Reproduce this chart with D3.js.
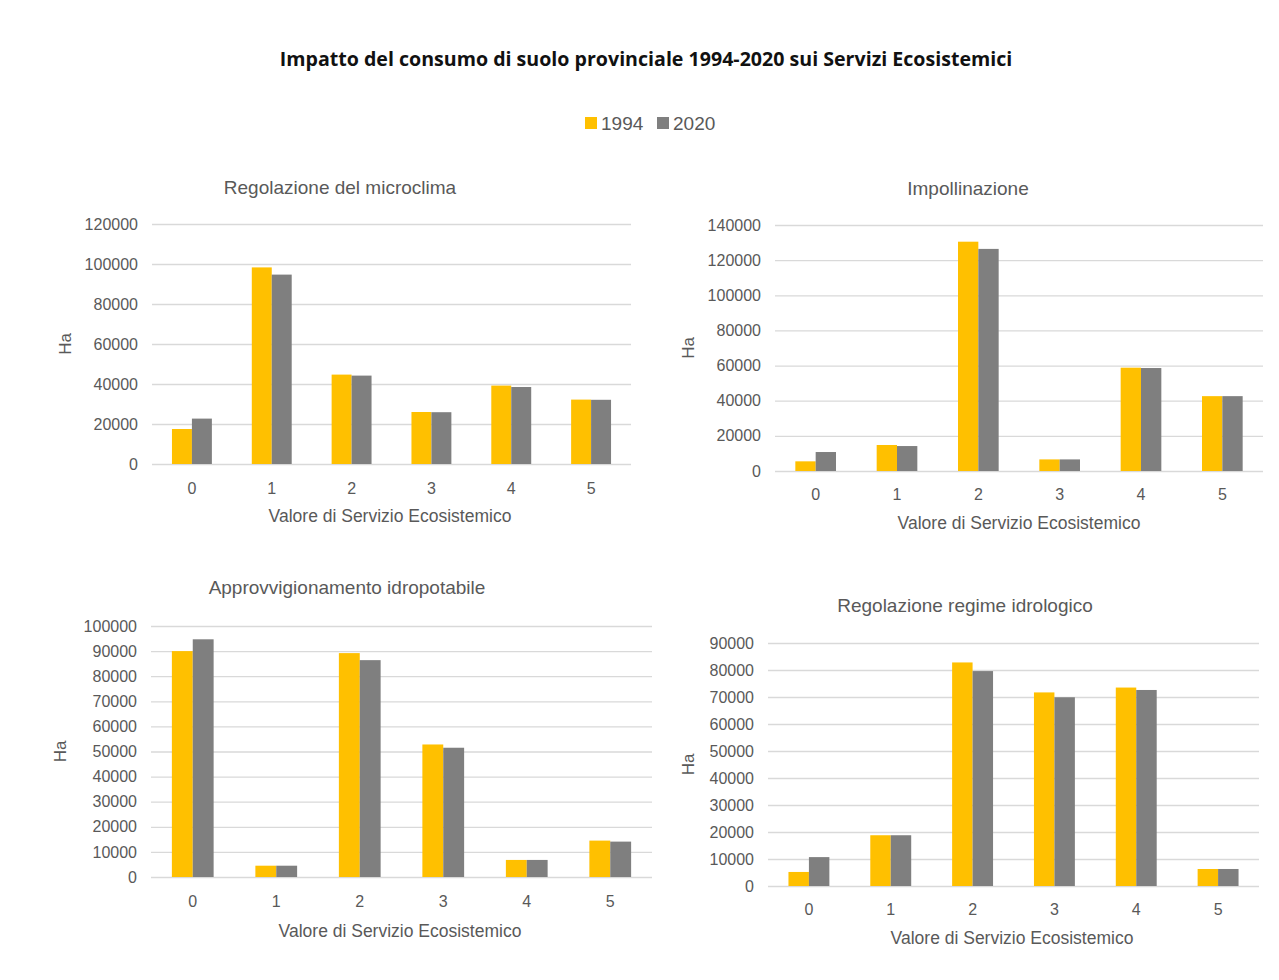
<!DOCTYPE html>
<html>
<head>
<meta charset="utf-8">
<script src="https://cdn.jsdelivr.net/npm/d3@7"></script>
<style>
  body { margin: 0; background: #fff; }
  svg { display: block; }
</style>
</head>
<body>
<script>
// Data
var categories = ["0", "1", "2", "3", "4", "5"];
var years = ["1994", "2020"];

var microclima1994 = [17500, 98300, 44700, 26000, 39200, 32200];
var microclima2020 = [22700, 94700, 44200, 25900, 38500, 32100];

var impollinazione1994 = [5500, 14800, 130500, 6600, 58800, 42600];
var impollinazione2020 = [10800, 14200, 126400, 6600, 58600, 42600];

var idropotabile1994 = [90000, 4500, 89200, 52800, 6800, 14500];
var idropotabile2020 = [94700, 4500, 86400, 51500, 6800, 14100];

var idrologico1994 = [5200, 18800, 82800, 71700, 73500, 6300];
var idrologico2020 = [10700, 18800, 79600, 69900, 72600, 6300];

var yMaxes = [120000, 140000, 100000, 90000];
var yTickSteps = [20000, 20000, 10000, 10000];
var panelTitles = ["Regolazione del microclima", "Impollinazione",
                   "Approvvigionamento idropotabile", "Regolazione regime idrologico"];

var mainTitle = "Impatto del consumo di suolo provinciale 1994-2020 sui Servizi Ecosistemici";
var xTitle = "Valore di Servizio Ecosistemico";
var yTitle = "Ha";

// Colours
var color = d3.scaleOrdinal().domain(years).range(["#FFC000", "#7F7F7F"]);
var textGray = "#595959";
var gridGray = "#D9D9D9";
var panelFont = "'Liberation Sans', Arial, sans-serif";
var tickFont = "'Liberation Sans', Arial, sans-serif";

// Layout of the four panels
var panels = [
  {v1: microclima1994, v2: microclima2020, left: 152, right: 631, top: 224, bottom: 464,
   titleX: 340, titleY: 187, tickY: 488, xTitleX: 390, xTitleY: 516, haX: 65},
  {v1: impollinazione1994, v2: impollinazione2020, left: 775, right: 1263, top: 225, bottom: 471,
   titleX: 968, titleY: 188, tickY: 494, xTitleX: 1019, xTitleY: 523, haX: 688},
  {v1: idropotabile1994, v2: idropotabile2020, left: 151, right: 652, top: 626, bottom: 877,
   titleX: 347, titleY: 587, tickY: 901, xTitleX: 400, xTitleY: 931, haX: 60},
  {v1: idrologico1994, v2: idrologico2020, left: 768, right: 1259, top: 643, bottom: 886,
   titleX: 965, titleY: 605, tickY: 909, xTitleX: 1012, xTitleY: 938, haX: 688}
];

var w = 1279, h = 980;
var svg = d3.select("body").append("svg")
  .attr("width", w)
  .attr("height", h);

svg.append("rect").attr("width", w).attr("height", h).attr("fill", "#fff");

// Main title
svg.append("text")
  .attr("x", 646)
  .attr("y", 59)
  .attr("dy", "0.35em")
  .attr("text-anchor", "middle")
  .attr("font-family", "'Open Sans', 'Noto Sans', sans-serif")
  .attr("font-weight", "bold")
  .attr("font-size", "19.6px")
  .attr("fill", "#111")
  .text(mainTitle);

// Legend
var legend = svg.append("g").attr("transform", "translate(585,123)");
var legendX = [0, 72];
years.forEach(function(yr, i) {
  var g = legend.append("g").attr("transform", "translate(" + legendX[i] + ",0)");
  g.append("rect")
    .attr("x", 0).attr("y", -6)
    .attr("width", 12).attr("height", 12)
    .attr("fill", color(yr));
  g.append("text")
    .attr("x", 16)
    .attr("dy", "0.35em")
    .attr("font-family", tickFont)
    .attr("font-size", "19px")
    .attr("fill", textGray)
    .text(yr);
});

// Panels
panels.forEach(function(p, k) {
  var g = svg.append("g");

  var x = d3.scaleBand()
    .domain(categories)
    .range([p.left, p.right])
    .paddingInner(0.5)
    .paddingOuter(0.25);

  var xInner = d3.scaleBand()
    .domain(years)
    .range([0, x.bandwidth()]);

  var y = d3.scaleLinear()
    .domain([0, yMaxes[k]])
    .range([p.bottom, p.top]);

  var ticks = d3.range(0, yMaxes[k] + 1, yTickSteps[k]);

  // gridlines + y labels
  var yAxis = g.append("g")
    .attr("transform", "translate(" + p.left + ",0)")
    .call(d3.axisLeft(y)
      .tickValues(ticks)
      .tickFormat(d3.format("d"))
      .tickSize(-(p.right - p.left))
      .tickPadding(14));
  yAxis.select(".domain").remove();
  yAxis.selectAll(".tick line").attr("stroke", gridGray).attr("stroke-width", 1.3);
  yAxis.selectAll(".tick text")
    .attr("font-family", tickFont)
    .attr("font-size", "16px")
    .attr("fill", textGray);

  // bars
  var rows = categories.map(function(c, i) {
    return {cat: c, vals: [{yr: "1994", v: p.v1[i]}, {yr: "2020", v: p.v2[i]}]};
  });

  g.selectAll(".grp")
    .data(rows)
    .enter().append("g")
      .attr("class", "grp")
      .attr("transform", function(d) { return "translate(" + x(d.cat) + ",0)"; })
    .selectAll("rect")
    .data(function(d) { return d.vals; })
    .enter().append("rect")
      .attr("x", function(d) { return xInner(d.yr); })
      .attr("width", xInner.bandwidth())
      .attr("y", function(d) { return y(d.v); })
      .attr("height", function(d) { return p.bottom - y(d.v); })
      .attr("fill", function(d) { return color(d.yr); });

  // x labels
  var xAxis = g.append("g")
    .attr("transform", "translate(0," + p.tickY + ")")
    .call(d3.axisBottom(x).tickSize(0).tickPadding(0));
  xAxis.select(".domain").remove();
  xAxis.selectAll(".tick text")
    .attr("dy", "0.35em")
    .attr("font-family", tickFont)
    .attr("font-size", "16px")
    .attr("fill", textGray);

  // panel title
  g.append("text")
    .attr("x", p.titleX)
    .attr("y", p.titleY)
    .attr("dy", "0.35em")
    .attr("text-anchor", "middle")
    .attr("font-family", panelFont)
    .attr("font-size", "19px")
    .attr("fill", textGray)
    .text(panelTitles[k]);

  // x axis title
  g.append("text")
    .attr("x", p.xTitleX)
    .attr("y", p.xTitleY)
    .attr("dy", "0.35em")
    .attr("text-anchor", "middle")
    .attr("font-family", panelFont)
    .attr("font-size", "17.5px")
    .attr("fill", textGray)
    .text(xTitle);

  // y axis title
  g.append("text")
    .attr("transform", "translate(" + p.haX + "," + ((p.top + p.bottom) / 2) + ") rotate(-90)")
    .attr("dy", "0.35em")
    .attr("text-anchor", "middle")
    .attr("font-family", tickFont)
    .attr("font-size", "17px")
    .attr("fill", textGray)
    .text(yTitle);
});
</script>
</body>
</html>
